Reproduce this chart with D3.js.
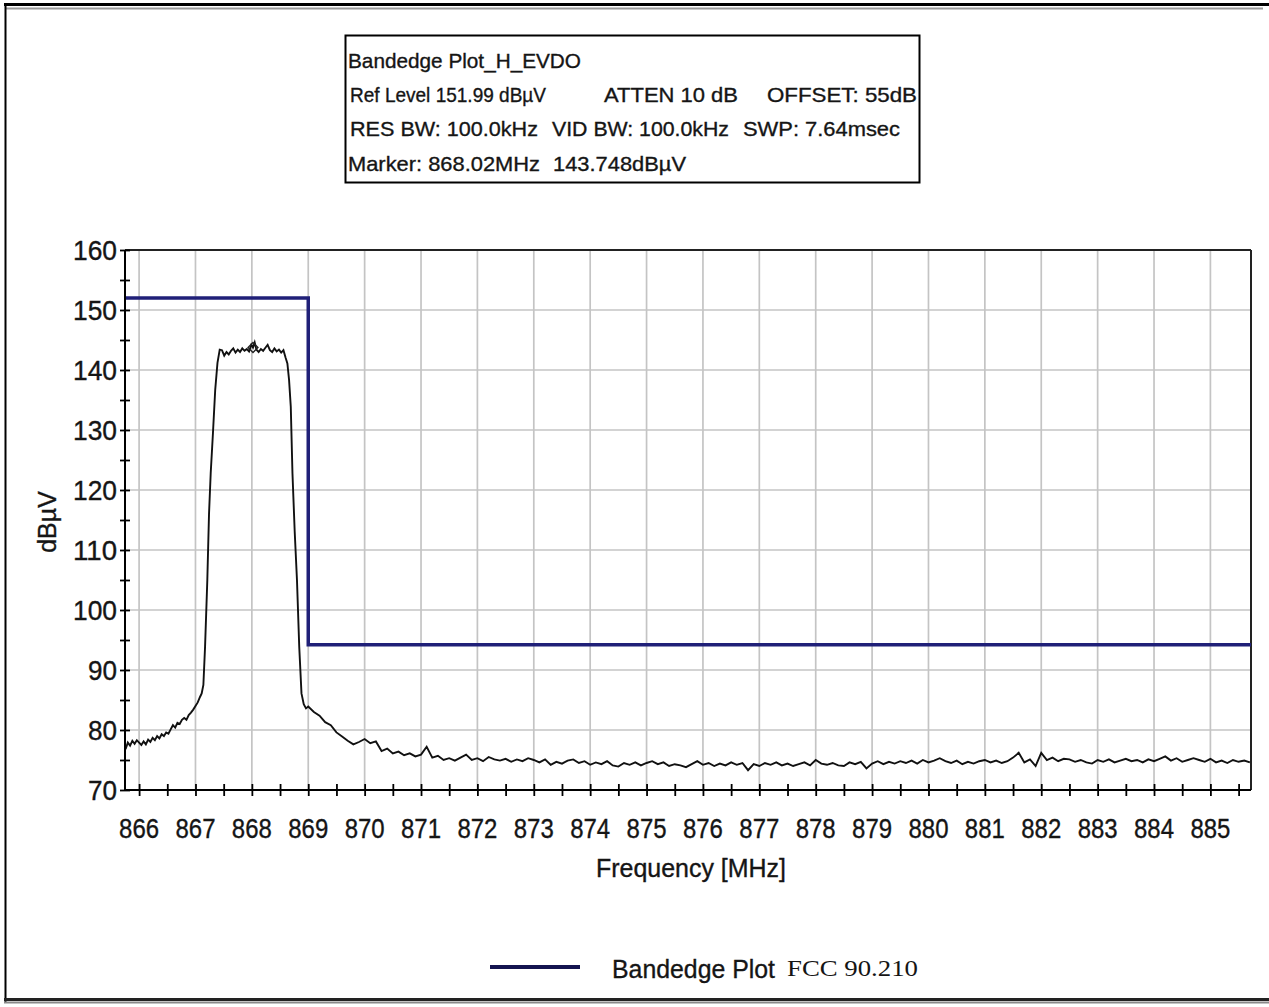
<!DOCTYPE html>
<html>
<head>
<meta charset="utf-8">
<script src="https://cdn.jsdelivr.net/npm/d3@7/dist/d3.min.js"></script>
<style>
  html, body { margin: 0; padding: 0; background: #fff; }
  svg { display: block; }
</style>
</head>
<body>
<script>
// ---- Chart data -------------------------------------------------------
const infoLines = [
  ["Bandedge Plot_H_EVDO"],
  ["Ref Level 151.99 dBµV", "ATTEN 10 dB", "OFFSET: 55dB"],
  ["RES BW: 100.0kHz", "VID BW: 100.0kHz", "SWP: 7.64msec"],
  ["Marker: 868.02MHz", "143.748dBµV"]
];
const xTickMHz = [866, 867, 868, 869, 870, 871, 872, 873, 874, 875, 876, 877, 878, 879, 880, 881, 882, 883, 884, 885];
const yTickDb = [70, 80, 90, 100, 110, 120, 130, 140, 150, 160];
const freqDomain = [865.75, 885.72];
const levelDomain = [70, 160];

// FCC 90.210 limit mask: [MHz, dBµV]
const limitMask = [[865.75, 152.0], [869.0, 152.0], [869.0, 94.2], [885.72, 94.2]];

// Marker reading
const markerMHz = 868.02;
const markerDb = 143.748;

// Measured trace: [MHz, dBµV]
const trace = [
  [865.76,76.8],[865.80,77.9],[865.84,77.4],[865.88,78.2],[865.92,77.7],[865.96,78.3],[866.00,77.9],
  [866.04,77.5],[866.08,78.1],[866.12,77.6],[866.16,78.4],[866.20,78.0],[866.24,78.7],[866.28,78.3],
  [866.32,79.0],[866.36,78.6],[866.40,79.3],[866.44,79.0],[866.48,79.6],[866.52,79.4],[866.56,80.1],
  [866.60,80.8],[866.64,80.4],[866.68,81.2],[866.72,81.0],[866.76,81.7],[866.80,82.0],[866.84,81.7],
  [866.88,82.5],[866.92,82.9],[866.96,83.4],[867.00,84.0],[867.04,84.6],[867.08,85.5],[867.11,86.1],
  [867.14,87.5],[867.17,93.9],[867.21,105.0],[867.24,116.0],[867.27,122.8],[867.31,129.5],[867.35,136.7],
  [867.39,141.2],[867.43,143.4],[867.47,143.3],[867.51,142.4],[867.55,143.0],[867.59,142.6],[867.63,143.2],
  [867.67,143.6],[867.71,142.9],[867.75,143.4],[867.79,143.0],[867.83,143.6],[867.87,143.2],[867.91,143.5],
  [867.95,143.1],[867.99,144.2],[868.02,143.75],[868.05,144.6],[868.08,143.4],[868.12,143.0],[868.16,143.5],
  [868.20,143.2],[868.24,143.7],[868.28,144.2],[868.32,143.3],[868.36,143.0],[868.40,143.6],[868.44,143.1],
  [868.48,143.4],[868.52,142.9],[868.56,143.3],[868.60,142.0],[868.63,141.1],[868.66,138.3],[868.69,133.9],
  [868.72,122.8],[868.76,113.0],[868.80,105.0],[868.84,93.9],[868.88,86.1],[868.92,84.3],[868.96,83.6],
  [869.0,83.9],[869.1,83.0],[869.2,82.4],[869.3,81.3],[869.4,80.8],[869.5,79.6],[869.6,78.9],[869.7,78.2],
  [869.8,77.6],[869.9,78.0],[870.0,78.5],[870.1,77.8],[870.2,78.1],[870.3,76.5],[870.4,76.9],[870.5,76.1],
  [870.6,76.4],[870.7,75.8],[870.8,76.1],[870.9,75.6],[871.0,75.9],[871.1,77.2],[871.2,75.4],[871.3,75.7],
  [871.4,75.0],[871.5,75.3],[871.6,74.9],[871.7,75.4],[871.8,75.9],[871.9,75.0],[872.0,75.3],[872.1,74.8],
  [872.2,75.5],[872.3,75.1],[872.4,74.9],[872.5,75.2],[872.6,74.7],[872.7,75.1],[872.8,74.8],[872.9,75.3],
  [873.0,75.0],[873.1,74.6],[873.2,75.1],[873.3,74.2],[873.4,74.7],[873.5,74.4],[873.6,74.9],[873.7,75.1],
  [873.8,74.5],[873.9,74.8],[874.0,74.2],[874.1,74.6],[874.2,74.3],[874.3,74.8],[874.4,74.1],[874.5,73.9],
  [874.6,74.5],[874.7,74.2],[874.8,74.6],[874.9,74.1],[875.0,74.5],[875.1,74.8],[875.2,74.3],[875.3,74.6],
  [875.4,74.0],[875.5,74.3],[875.6,74.1],[875.7,73.8],[875.8,74.3],[875.9,74.8],[876.0,74.2],[876.1,74.5],
  [876.2,74.0],[876.3,74.4],[876.4,74.1],[876.5,74.6],[876.6,74.2],[876.7,74.5],[876.8,73.3],[876.9,74.3],
  [877.0,74.0],[877.1,74.5],[877.2,74.2],[877.3,74.6],[877.4,74.1],[877.5,74.4],[877.6,74.0],[877.7,74.3],
  [877.8,74.6],[877.9,74.1],[878.0,75.0],[878.1,74.4],[878.2,74.2],[878.3,74.5],[878.4,74.1],[878.5,74.0],
  [878.6,74.6],[878.7,74.3],[878.8,74.7],[878.9,73.6],[879.0,74.4],[879.1,74.8],[879.2,74.3],[879.3,74.7],
  [879.4,74.4],[879.5,74.8],[879.6,74.5],[879.7,74.9],[879.8,74.4],[879.9,75.0],[880.0,74.6],[880.1,74.9],
  [880.2,75.3],[880.3,74.8],[880.4,74.5],[880.5,74.9],[880.6,74.3],[880.7,74.7],[880.8,74.4],[880.9,74.8],
  [881.0,75.0],[881.1,74.6],[881.2,74.9],[881.3,74.5],[881.4,74.8],[881.5,75.4],[881.6,76.2],[881.7,74.6],
  [881.8,75.1],[881.9,74.0],[882.0,76.2],[882.1,75.0],[882.2,75.4],[882.3,74.8],[882.4,75.2],[882.5,75.1],
  [882.6,74.7],[882.7,75.0],[882.8,74.6],[882.9,74.4],[883.0,75.0],[883.1,74.7],[883.2,75.1],[883.3,74.6],
  [883.4,74.9],[883.5,75.2],[883.6,74.8],[883.7,75.0],[883.8,74.6],[883.9,75.1],[884.0,74.8],[884.1,75.2],
  [884.2,75.6],[884.3,74.9],[884.4,75.3],[884.5,74.7],[884.6,75.0],[884.7,75.3],[884.8,75.0],[884.9,74.7],
  [885.0,75.2],[885.1,74.6],[885.2,74.9],[885.3,74.5],[885.4,75.0],[885.5,74.7],[885.6,74.9],[885.7,74.6]
];

// ---- Layout -----------------------------------------------------------
const W = 1269, H = 1007;
const plot = { left: 125, right: 1251, top: 250, bottom: 790 };
const sans = "'Liberation Sans', Arial, Helvetica, sans-serif";
const serif = "'Liberation Serif', 'Times New Roman', serif";
const limitColor = "#202078";
const ink = "#151515";

const svg = d3.select("body").append("svg")
  .attr("width", W).attr("height", H)
  .style("background", "#fff");

const x = d3.scaleLinear().domain(freqDomain).range([plot.left, plot.right]);
const y = d3.scaleLinear().domain(levelDomain).range([plot.bottom, plot.top]);

// Text helper: slightly heavy strokes, like the instrument's screen font
function label(sel) {
  return sel.attr("font-family", sans).attr("fill", ink)
    .attr("stroke", ink).attr("stroke-width", 0.35);
}

// ---- Page frame -------------------------------------------------------
svg.append("line").attr("x1", 4).attr("x2", W).attr("y1", 4.5).attr("y2", 4.5)
  .attr("stroke", "#000").attr("stroke-width", 3);
svg.append("line").attr("x1", 6).attr("x2", 1263).attr("y1", 8.5).attr("y2", 8.5)
  .attr("stroke", "#9a9a9a").attr("stroke-width", 2);
svg.append("line").attr("x1", 5.5).attr("x2", 5.5).attr("y1", 3).attr("y2", 1002)
  .attr("stroke", "#000").attr("stroke-width", 2);
svg.append("line").attr("x1", 4).attr("x2", W).attr("y1", 999.5).attr("y2", 999.5)
  .attr("stroke", "#222").attr("stroke-width", 3);
svg.append("line").attr("x1", 4).attr("x2", W).attr("y1", 1002.5).attr("y2", 1002.5)
  .attr("stroke", "#8a8a8a").attr("stroke-width", 2);

// ---- Info box ---------------------------------------------------------
svg.append("rect").attr("x", 345.5).attr("y", 35.5).attr("width", 574).attr("height", 147)
  .attr("fill", "#fff").attr("stroke", "#000").attr("stroke-width", 2);

const infoX = [[348], [350, 604, 767], [350, 552, 743], [348, 553]];
const infoW = [[233], [196, 134, 150], [188, 177, 157], [192, 133]];
const infoBase = [68, 102, 136, 171];
infoLines.forEach((segs, i) => {
  segs.forEach((s, j) => {
    svg.append("text").call(label)
      .attr("x", infoX[i][j]).attr("y", infoBase[i])
      .attr("font-size", 21)
      .attr("textLength", infoW[i][j]).attr("lengthAdjust", "spacingAndGlyphs")
      .text(s);
  });
});

// ---- Grid -------------------------------------------------------------
const grid = svg.append("g").attr("stroke", "#c4c4c4").attr("stroke-width", 1.7);
grid.selectAll("line.v").data(xTickMHz).join("line")
  .attr("x1", d => x(d)).attr("x2", d => x(d))
  .attr("y1", plot.top).attr("y2", plot.bottom);
grid.selectAll("line.h").data(yTickDb.filter(d => d > 70 && d < 160)).join("line")
  .attr("class", "h")
  .attr("x1", plot.left).attr("x2", plot.right)
  .attr("y1", d => y(d)).attr("y2", d => y(d));

// ---- Plot frame -------------------------------------------------------
svg.append("line").attr("x1", plot.left).attr("x2", plot.right)
  .attr("y1", plot.top).attr("y2", plot.top).attr("stroke", "#222").attr("stroke-width", 2);
svg.append("line").attr("x1", plot.right).attr("x2", plot.right)
  .attr("y1", plot.top).attr("y2", plot.bottom).attr("stroke", "#222").attr("stroke-width", 2);

// ---- Limit mask -------------------------------------------------------
svg.append("path")
  .datum(limitMask)
  .attr("fill", "none").attr("stroke", limitColor).attr("stroke-width", 3.5)
  .attr("d", d3.line().x(d => x(d[0])).y(d => y(d[1])));

// ---- Trace ------------------------------------------------------------
svg.append("clipPath").attr("id", "plotClip").append("rect")
  .attr("x", plot.left).attr("y", plot.top)
  .attr("width", plot.right - plot.left).attr("height", plot.bottom - plot.top);

svg.append("path")
  .datum(trace)
  .attr("clip-path", "url(#plotClip)")
  .attr("fill", "none").attr("stroke", "#111").attr("stroke-width", 1.9)
  .attr("stroke-linejoin", "miter")
  .attr("d", d3.line().x(d => x(d[0])).y(d => y(d[1])));

// Marker diamond
svg.append("path")
  .attr("transform", `translate(${x(markerMHz)},${y(markerDb)}) rotate(45)`)
  .attr("d", d3.symbol().type(d3.symbolSquare).size(50)())
  .attr("fill", "none").attr("stroke", "#222").attr("stroke-width", 1.3);

// ---- Axes -------------------------------------------------------------
const xMinor = d3.range(0, 40).map(i => 866 + i * 0.5).filter(d => d <= freqDomain[1]);
const yMinor = d3.range(0, 19).map(i => 70 + i * 5);

const xAxis = d3.axisBottom(x).tickValues(xMinor).tickSize(12).tickFormat("");
svg.append("g").attr("transform", `translate(0,${plot.bottom - 6})`).call(xAxis)
  .call(g => g.select(".domain").remove())
  .call(g => g.selectAll(".tick line").attr("stroke", "#000").attr("stroke-width", 1.8));
svg.append("line").attr("x1", plot.left).attr("x2", plot.right)
  .attr("y1", plot.bottom).attr("y2", plot.bottom).attr("stroke", "#000").attr("stroke-width", 2);

const yAxis = d3.axisLeft(y).tickValues(yMinor).tickSize(10).tickFormat("");
svg.append("g").attr("transform", `translate(${plot.left + 5},0)`).call(yAxis)
  .call(g => g.select(".domain").remove())
  .call(g => g.selectAll(".tick line").attr("stroke", "#000").attr("stroke-width", 1.8));
svg.append("line").attr("x1", plot.left).attr("x2", plot.left)
  .attr("y1", plot.top).attr("y2", plot.bottom).attr("stroke", "#000").attr("stroke-width", 2);

// Tick labels
svg.append("g").selectAll("text").data(xTickMHz).join("text").call(label)
  .attr("x", d => x(d)).attr("y", 838)
  .attr("text-anchor", "middle")
  .attr("font-size", 27)
  .attr("textLength", 40).attr("lengthAdjust", "spacingAndGlyphs")
  .text(d => d);

svg.append("g").selectAll("text").data(yTickDb).join("text").call(label)
  .attr("x", 117).attr("y", d => y(d) + 10)
  .attr("text-anchor", "end")
  .attr("font-size", 27)
  .attr("textLength", d => d >= 100 ? 44 : 29).attr("lengthAdjust", "spacingAndGlyphs")
  .text(d => d);

// Axis titles
svg.append("text").call(label)
  .attr("x", 691).attr("y", 877)
  .attr("text-anchor", "middle")
  .attr("font-size", 25)
  .attr("textLength", 190).attr("lengthAdjust", "spacingAndGlyphs")
  .text("Frequency [MHz]");

svg.append("text").call(label)
  .attr("transform", "translate(56,522) rotate(-90)")
  .attr("text-anchor", "middle")
  .attr("font-size", 25)
  .text("dBµV");

// ---- Legend -----------------------------------------------------------
svg.append("line").attr("x1", 490).attr("x2", 580).attr("y1", 967).attr("y2", 967)
  .attr("stroke", "#141450").attr("stroke-width", 4);
svg.append("text").call(label)
  .attr("x", 612).attr("y", 978)
  .attr("font-size", 26)
  .attr("textLength", 163).attr("lengthAdjust", "spacingAndGlyphs")
  .text("Bandedge Plot");
svg.append("text")
  .attr("x", 787).attr("y", 976)
  .attr("font-family", serif).attr("font-size", 23).attr("fill", ink)
  .attr("textLength", 131).attr("lengthAdjust", "spacingAndGlyphs")
  .text("FCC 90.210");
</script>
</body>
</html>
